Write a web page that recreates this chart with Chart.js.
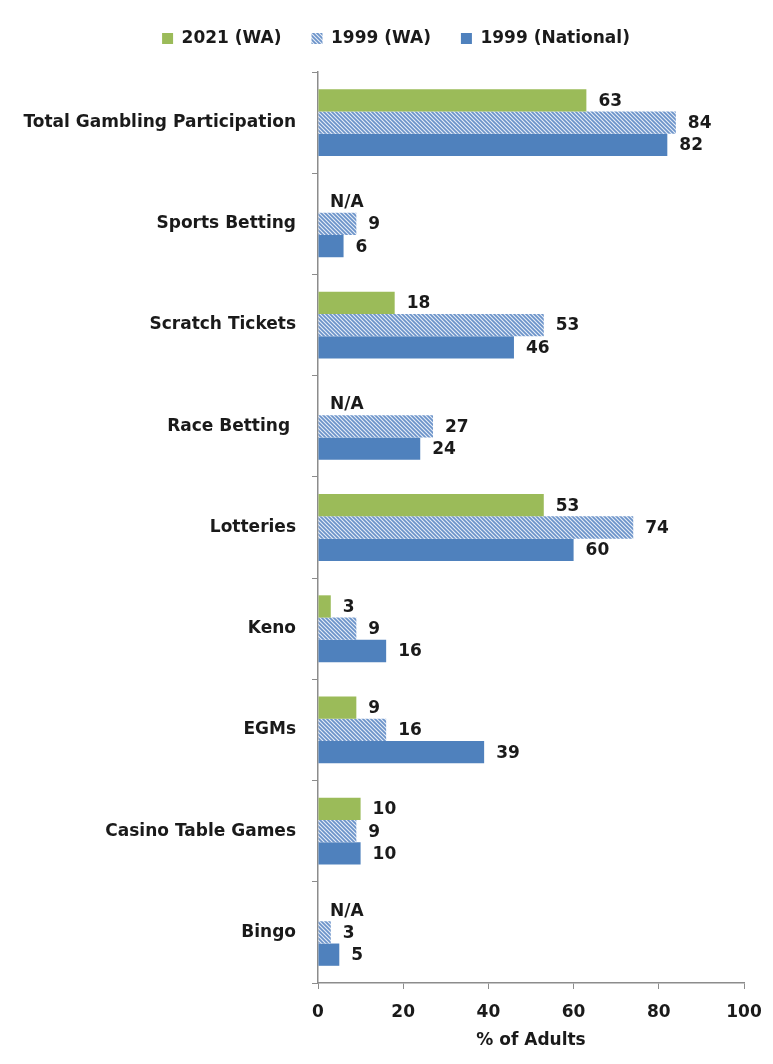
<!DOCTYPE html>
<html>
<head>
<meta charset="utf-8">
<script src="https://cdn.jsdelivr.net/npm/chart.js@4"></script>
<style>
  html, body { margin: 0; padding: 0; background: #fff; }
  #wrap { width: 773px; height: 1064px; }
</style>
</head>
<body>
<div id="wrap"><canvas id="myChart" width="773" height="1064"></canvas></div>
<script>
// categories and series
const categories = ['Total Gambling Participation', 'Sports Betting', 'Scratch Tickets', 'Race Betting ',
    'Lotteries', 'Keno', 'EGMs', 'Casino Table Games', 'Bingo'];
const seriesNames = ['2021 (WA)', '1999 (WA)', '1999 (National)'];
const wa2021 = [63, null, 18, null, 53, 3, 9, 10, null];
const wa1999 = [84, 9, 53, 27, 74, 9, 16, 9, 3];
const national1999 = [82, 6, 46, 24, 60, 16, 39, 10, 5];
const xTicks = [0, 20, 40, 60, 80, 100];

const FONT = '"DejaVu Sans", sans-serif';
const FSIZE = 17;
const green = '#9BBB59';
const blue = '#4F81BD';

// diagonal hatch used for the 1999 (WA) bars
function makeHatch() {
    const c = document.createElement('canvas');
    c.width = 4; c.height = 4;
    const g = c.getContext('2d');
    g.fillStyle = '#e6edf7';
    g.fillRect(0, 0, 4, 4);
    g.strokeStyle = '#6b93c9';
    g.lineWidth = 1.7;
    g.beginPath();
    g.moveTo(-1, -1); g.lineTo(5, 5);
    g.moveTo(-1, 3); g.lineTo(1, 5);
    g.moveTo(3, -1); g.lineTo(5, 1);
    g.stroke();
    return g.createPattern(c, 'repeat');
}
const hatch = makeHatch();

// extra room under the legend, and legend nudged right over the bars
const legendTweak = {
    id: 'legendTweak',
    beforeInit(chart) {
        const legend = chart.legend;
        const fit = legend.fit;
        legend.fit = function() {
            fit.call(this);
            this.height += 15;
        };
        const draw = legend.draw;
        legend.draw = function() {
            this.ctx.save();
            this.ctx.translate(24, 0);
            draw.call(this);
            this.ctx.restore();
        };
    }
};

// value labels to the right of every bar, N/A where there is no value
const barLabels = {
    id: 'barLabels',
    afterDatasetsDraw(chart) {
        const ctx = chart.ctx;
        const xScale = chart.scales.x;
        ctx.save();
        ctx.font = 'bold ' + FSIZE + 'px ' + FONT;
        ctx.fillStyle = '#1a1a1a';
        ctx.textAlign = 'left';
        ctx.textBaseline = 'middle';
        chart.data.datasets.forEach((ds, i) => {
            const meta = chart.getDatasetMeta(i);
            meta.data.forEach((bar, j) => {
                const v = ds.data[j];
                const txt = v === null ? 'N/A' : String(v);
                const x = xScale.getPixelForValue(v === null ? 0 : v);
                ctx.fillText(txt, x + 12, bar.y + 1);
            });
        });
        ctx.restore();
    }
};

const ctx = document.getElementById('myChart').getContext('2d');
const chart = new Chart(ctx, {
    type: 'bar',
    data: {
        labels: categories,
        datasets: [
            { label: seriesNames[0], data: wa2021, backgroundColor: green, borderWidth: 0 },
            { label: seriesNames[1], data: wa1999, backgroundColor: hatch, borderWidth: 0 },
            { label: seriesNames[2], data: national1999, backgroundColor: blue, borderWidth: 0 }
        ]
    },
    plugins: [legendTweak, barLabels],
    options: {
        indexAxis: 'y',
        responsive: false,
        animation: false,
        datasets: { bar: { categoryPercentage: 0.66, barPercentage: 1.0 } },
        layout: { padding: { left: 0, right: 29, top: 0, bottom: 15 } },
        plugins: {
            tooltip: { enabled: false },
            legend: {
                position: 'top',
                labels: {
                    boxWidth: 11,
                    boxHeight: 11,
                    padding: 30,
                    color: '#1a1a1a',
                    font: { family: FONT, size: FSIZE, weight: 'bold' }
                }
            }
        },
        scales: {
            x: {
                min: 0,
                max: 100,
                afterBuildTicks: function(scale) {
                    scale.ticks = xTicks.map(v => ({ value: v }));
                },
                afterFit: function(scale) {
                    scale.paddingLeft = 0;
                    scale.paddingRight = 0;
                },
                grid: {
                    drawOnChartArea: false,
                    drawTicks: true,
                    tickLength: 6,
                    color: '#8c8c8c'
                },
                border: { color: '#8c8c8c', width: 1.5 },
                ticks: {
                    color: '#1a1a1a',
                    padding: 15,
                    font: { family: FONT, size: FSIZE, weight: 'bold', lineHeight: 1 }
                },
                title: {
                    display: true,
                    text: '% of Adults',
                    color: '#1a1a1a',
                    padding: { top: -4, bottom: 0 },
                    font: { family: FONT, size: FSIZE, weight: 'bold', lineHeight: 1 }
                }
            },
            y: {
                afterFit: function(scale) {
                    scale.width = 318;
                },
                grid: {
                    offset: true,
                    drawOnChartArea: false,
                    tickLength: 6,
                    color: '#8c8c8c'
                },
                border: { color: '#8c8c8c', width: 1.5 },
                ticks: {
                    color: '#1a1a1a',
                    padding: 16,
                    font: { family: FONT, size: FSIZE, weight: 'bold' }
                }
            }
        }
    }
});
</script>
</body>
</html>
